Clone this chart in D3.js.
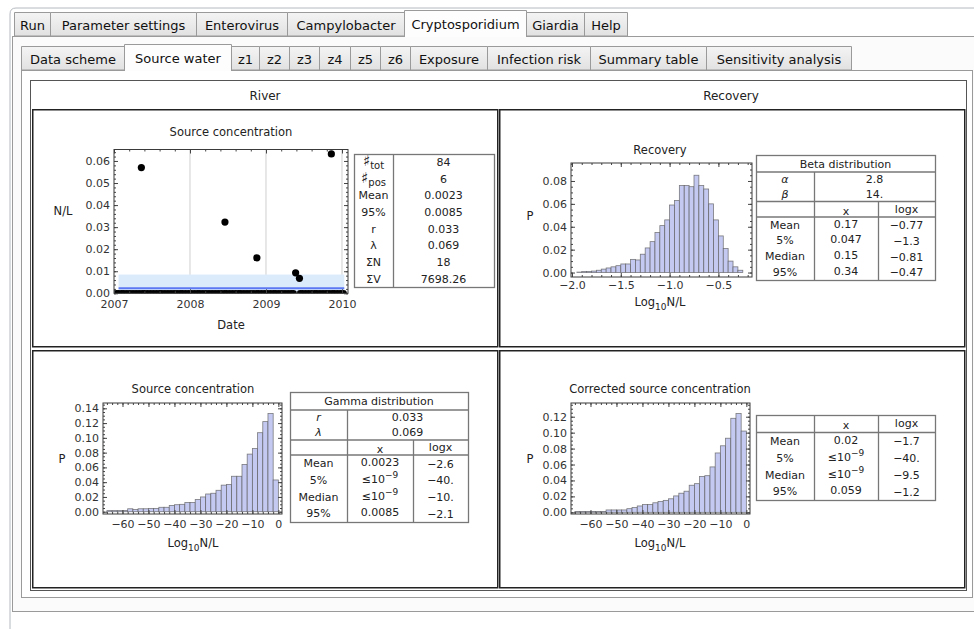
<!DOCTYPE html>
<html>
<head>
<meta charset="utf-8">
<script src="https://cdn.jsdelivr.net/npm/d3@7"></script>
<style>
  body { margin: 0; background: #fff; }
  svg { display: block; font-family: "DejaVu Sans", Verdana, sans-serif; }
</style>
</head>
<body>
<svg id="chart" width="974" height="629"></svg>
<script>
// ---------------- data ----------------
const mainTabs = ["Run", "Parameter settings", "Enterovirus", "Campylobacter", "Cryptosporidium", "Giardia", "Help"];
const subTabs = ["Data scheme", "Source water", "z1", "z2", "z3", "z4", "z5", "z6", "Exposure", "Infection risk", "Summary table", "Sensitivity analysis"];
const columnHeads = ["River", "Recovery"];

// sampling dates (decimal years) with a positive count, and their concentrations (N/L)
const positiveDates = [2007.36, 2008.46, 2008.88, 2009.39, 2009.44, 2009.86];
const positiveConc = [0.0570, 0.0323, 0.0161, 0.0093, 0.0068, 0.0632];
// sampling dates with zero count
const zeroDates = [
  2007.03, 2007.06, 2007.10, 2007.13, 2007.17, 2007.21, 2007.25, 2007.29, 2007.33, 2007.37,
  2007.40, 2007.44, 2007.48, 2007.52, 2007.56, 2007.60, 2007.63, 2007.67, 2007.71, 2007.75,
  2007.79, 2007.83, 2007.87, 2007.90, 2007.94, 2007.98, 2008.02, 2008.06, 2008.10, 2008.13,
  2008.17, 2008.21, 2008.25, 2008.29, 2008.33, 2008.37, 2008.41, 2008.45, 2008.48, 2008.52,
  2008.56, 2008.60, 2008.64, 2008.67, 2008.71, 2008.75, 2008.79, 2008.83, 2008.87, 2008.90,
  2008.94, 2008.98, 2009.02, 2009.06, 2009.10, 2009.13, 2009.17, 2009.21, 2009.25, 2009.29,
  2009.33, 2009.36, 2009.45, 2009.48, 2009.52, 2009.56, 2009.60, 2009.64, 2009.67, 2009.71,
  2009.75, 2009.79, 2009.83, 2009.87, 2009.90, 2009.94, 2009.98, 2010.02
];
const sourceMean = 0.0023;
const source95 = 0.0085;

const statLabels = [["♯", "tot"], ["♯", "pos"], ["Mean"], ["95%"], ["r"], ["λ"], ["ΣN"], ["ΣV"]];
const statValues = ["84", "6", "0.0023", "0.0085", "0.033", "0.069", "18", "7698.26"];

// Recovery histogram: log10 bins of width 0.05 starting at -1.95
const recoveryBinStart = -1.95, recoveryBinWidth = 0.05;
const recoveryP = [0.0004, 0.0009, 0.001, 0.0013, 0.002, 0.003, 0.004, 0.005, 0.006, 0.0075,
  0.0075, 0.0115, 0.011, 0.016, 0.0215, 0.027, 0.035, 0.041, 0.046, 0.059,
  0.063, 0.076, 0.076, 0.075, 0.085, 0.076, 0.073, 0.060, 0.046, 0.032,
  0.021, 0.010, 0.005, 0.002];

// Source / corrected concentration histograms: log10 bins of width 2 starting at -66
const concBinStart = -66, concBinWidth = 2;
const sourceP = [0.0015, 0.0015, 0.0015, 0.0015, 0.004, 0.003, 0.004, 0.004, 0.0045, 0.0045,
  0.006, 0.006, 0.0085, 0.0095, 0.010, 0.0125, 0.0125, 0.0165, 0.020, 0.024,
  0.025, 0.029, 0.036, 0.037, 0.048, 0.048, 0.064, 0.078, 0.0855, 0.107,
  0.122, 0.133, 0.043];
const correctedP = [0.001, 0.001, 0.001, 0.001, 0.001, 0.001, 0.003, 0.003, 0.003, 0.003,
  0.0046, 0.006, 0.008, 0.0097, 0.0097, 0.012, 0.0135, 0.015, 0.017, 0.0206,
  0.024, 0.0265, 0.034, 0.036, 0.045, 0.046, 0.057, 0.0745, 0.0835, 0.093,
  0.118, 0.124, 0.102];

const summaryRows = ["Mean", "5%", "Median", "95%"];
const betaParams = [["α", "2.8"], ["β", "14."]];
const betaX = ["0.17", "0.047", "0.15", "0.34"];
const betaLogX = ["−0.77", "−1.3", "−0.81", "−0.47"];
const gammaParams = [["r", "0.033"], ["λ", "0.069"]];
const gammaX = ["0.0023", "≤10^−9", "≤10^−9", "0.0085"];
const gammaLogX = ["−2.6", "−40.", "−10.", "−2.1"];
const correctedX = ["0.02", "≤10^−9", "≤10^−9", "0.059"];
const correctedLogX = ["−1.7", "−40.", "−9.5", "−1.2"];

const dateTicks = [2007, 2008, 2009, 2010];
const concTicks = [0, 0.01, 0.02, 0.03, 0.04, 0.05, 0.06];
const recXTicks = [-2.0, -1.5, -1.0, -0.5];
const recYTicks = [0, 0.02, 0.04, 0.06, 0.08];
const logTicks = [-60, -50, -40, -30, -20, -10, 0];
const srcYTicks = [0, 0.02, 0.04, 0.06, 0.08, 0.10, 0.12, 0.14];
const corYTicks = [0, 0.02, 0.04, 0.06, 0.08, 0.10, 0.12];

// ---------------- drawing ----------------
const svg = d3.select("#chart");
const TXT = "#222";
const defs = svg.append("defs");
const grad = defs.append("linearGradient").attr("id", "tabgrad").attr("x1", 0).attr("y1", 0).attr("x2", 0).attr("y2", 1);
grad.append("stop").attr("offset", "0%").attr("stop-color", "#f4f4f4");
grad.append("stop").attr("offset", "100%").attr("stop-color", "#e1e1e1");

// window chrome
svg.append("path")
  .attr("d", "M10,629 L10,14 Q10,8 16,8 L974,8")
  .attr("fill", "none").attr("stroke", "#b4b9c0");
svg.append("rect").attr("x", 12.5).attr("y", 36.5).attr("width", 970).attr("height", 575)
  .attr("fill", "#fbfbfb").attr("stroke", "#9a9a9a");

function tabRow(labels, edges, yTop, yBot, sel) {
  const g = svg.append("g");
  labels.forEach((lab, i) => {
    const x0 = edges[i], x1 = edges[i + 1];
    const selected = i === sel;
    const t = selected ? yTop - 2 : yTop;
    g.append("path")
      .attr("d", `M${x0 + 0.5},${yBot + (selected ? 1 : 0)} L${x0 + 0.5},${t + 0.5} L${x1 + 0.5},${t + 0.5} L${x1 + 0.5},${yBot + (selected ? 1 : 0)}` + (selected ? "" : " Z"))
      .attr("fill", selected ? "#fdfdfd" : "url(#tabgrad)")
      .attr("stroke", "#9a9a9a");
    g.append("text")
      .attr("x", (x0 + x1) / 2 + 0.5).attr("y", (t + yBot) / 2 + 1)
      .attr("dy", "0.35em").attr("text-anchor", "middle")
      .attr("font-size", 13).attr("fill", "#111").text(lab);
  });
}
tabRow(mainTabs, [14, 50, 196, 287, 404, 526, 584, 627], 12, 36, 4);

svg.append("rect").attr("x", 21.5).attr("y", 70.5).attr("width", 951).attr("height", 527)
  .attr("fill", "#fff").attr("stroke", "#9a9a9a");
tabRow(subTabs, [21, 124, 231, 259, 289, 319, 350, 380, 410, 487, 590, 706, 851], 46, 70, 1);

// grid of panels
svg.append("rect").attr("x", 30.5).attr("y", 80.5).attr("width", 936).attr("height", 510)
  .attr("fill", "none").attr("stroke", "#555");
[[32, 109], [499, 109], [32, 350], [499, 350]].forEach(([x, y]) => {
  svg.append("rect").attr("x", x + 0.75).attr("y", y + 0.75).attr("width", 465).attr("height", 237)
    .attr("fill", "none").attr("stroke", "#222").attr("stroke-width", 1.5);
});
columnHeads.forEach((h, i) => {
  svg.append("text").attr("x", i === 0 ? 265 : 731).attr("y", 96).attr("dy", "0.35em")
    .attr("text-anchor", "middle").attr("font-size", 12).attr("fill", TXT).text(h);
});

// ---- generic framed plot helpers ----
let clipId = 0;
function framed(xs, ys, o) {
  const g = svg.append("g");
  const [x0, x1] = xs.range();
  const [yb, yt] = ys.range();
  const id = "clip" + (clipId++);
  defs.append("clipPath").attr("id", id).append("rect")
    .attr("x", x0).attr("y", yt).attr("width", x1 - x0).attr("height", yb - yt);
  const plot = g.append("g").attr("clip-path", `url(#${id})`);
  const axes = g.append("g");
  const style = sel => {
    sel.select(".domain").remove();
    sel.selectAll("line").attr("stroke", "#444");
    sel.selectAll("text").attr("font-size", 11).attr("fill", "#333")
      .attr("font-family", "DejaVu Sans, Verdana, sans-serif");
  };
  axes.append("g").attr("transform", `translate(0,${yb})`)
    .call(d3.axisBottom(xs).tickValues(o.xMinor).tickSize(-2).tickFormat("")).call(style);
  axes.append("g").attr("transform", `translate(0,${yt})`)
    .call(d3.axisTop(xs).tickValues(o.xMinor).tickSize(-2).tickFormat("")).call(style);
  axes.append("g").attr("transform", `translate(${x0},0)`)
    .call(d3.axisLeft(ys).tickValues(o.yMinor).tickSize(-2).tickFormat("")).call(style);
  axes.append("g").attr("transform", `translate(${x1},0)`)
    .call(d3.axisRight(ys).tickValues(o.yMinor).tickSize(-2).tickFormat("")).call(style);
  axes.append("g").attr("transform", `translate(0,${yb})`)
    .call(d3.axisBottom(xs).tickValues(o.xTicks).tickSize(-4).tickPadding(o.xPad).tickFormat(o.xFmt)).call(style);
  axes.append("g").attr("transform", `translate(0,${yt})`)
    .call(d3.axisTop(xs).tickValues(o.xTicks).tickSize(-4).tickFormat("")).call(style);
  axes.append("g").attr("transform", `translate(${x0},0)`)
    .call(d3.axisLeft(ys).tickValues(o.yTicks).tickSize(-4).tickPadding(4).tickFormat(o.yFmt)).call(style);
  axes.append("g").attr("transform", `translate(${x1},0)`)
    .call(d3.axisRight(ys).tickValues(o.yTicks).tickSize(-4).tickFormat("")).call(style);
  axes.append("rect").attr("x", x0).attr("y", yt).attr("width", x1 - x0).attr("height", yb - yt)
    .attr("fill", "none").attr("stroke", "#3a3a3a").attr("stroke-width", 1);
  // title
  g.append("text").attr("x", o.title[1]).attr("y", o.title[2]).attr("dy", "0.35em")
    .attr("text-anchor", "middle").attr("font-size", 11.5).attr("fill", TXT).text(o.title[0]);
  return { g, plot, axes };
}
function range(a, b, s) { return d3.range(a, b + s / 2, s).map(v => +v.toFixed(6)); }
function logLabel(g, x, y) {
  const t = g.append("text").attr("x", x).attr("y", y).attr("text-anchor", "middle")
    .attr("font-size", 11.5).attr("fill", TXT);
  t.append("tspan").text("Log");
  t.append("tspan").attr("font-size", 9).attr("dy", 4).text("10");
  t.append("tspan").attr("dy", -4).text("N/L");
}
function sideLabel(g, x, y, s) {
  g.append("text").attr("x", x).attr("y", y).attr("dy", "0.35em").attr("text-anchor", "middle")
    .attr("font-size", 11.5).attr("fill", TXT).text(s);
}

// ---- top-left: concentration over time ----
{
  const xs = d3.scaleLinear().domain([2007, 2010.079]).range([114, 348]);
  const ys = d3.scaleLinear().domain([0, 0.0652]).range([293.3, 149.5]);
  const f = framed(xs, ys, {
    xTicks: dateTicks, xMinor: range(2007, 2010, 0.2), xFmt: d3.format("d"), xPad: 7,
    yTicks: concTicks, yMinor: range(0, 0.064, 0.002), yFmt: d3.format(".2f"),
    title: ["Source concentration", 231, 132]
  });
  f.plot.selectAll("line.grid").data(dateTicks.slice(1)).enter().append("line")
    .attr("x1", d => xs(d)).attr("x2", d => xs(d)).attr("y1", ys.range()[1]).attr("y2", ys.range()[0])
    .attr("stroke", "#cfcfcf");
  f.plot.append("rect").attr("x", xs(2007.06)).attr("width", xs(2010.03) - xs(2007.06))
    .attr("y", ys(source95)).attr("height", ys(0) - ys(source95)).attr("fill", "#dcebfc");
  f.plot.append("line").attr("x1", xs(2007.06)).attr("x2", xs(2010.03))
    .attr("y1", ys(sourceMean)).attr("y2", ys(sourceMean)).attr("stroke", "#5c78f2").attr("stroke-width", 2.2);
  f.plot.selectAll("circle.z").data(zeroDates).enter().append("circle")
    .attr("cx", d => xs(d)).attr("cy", ys(0)).attr("r", 3.4).attr("fill", "#000");
  f.plot.selectAll("circle.p").data(positiveDates).enter().append("circle")
    .attr("cx", d => xs(d)).attr("cy", (d, i) => ys(positiveConc[i])).attr("r", 3.6).attr("fill", "#000");
  f.axes.raise();
  sideLabel(f.g, 63, 211, "N/L");
  sideLabel(f.g, 231, 325, "Date");
}

// stats table
{
  const g = svg.append("g");
  const x0 = 354, xa = 393, x1 = 494, y0 = 154, y1 = 287;
  g.append("rect").attr("x", x0 + 0.5).attr("y", y0 + 0.5).attr("width", x1 - x0).attr("height", y1 - y0)
    .attr("fill", "#fff").attr("stroke", "#777").attr("stroke-width", 1.3);
  g.append("line").attr("x1", xa + 0.5).attr("x2", xa + 0.5).attr("y1", y0).attr("y2", y1).attr("stroke", "#777").attr("stroke-width", 1.3);
  const rh = (y1 - y0) / statLabels.length;
  statLabels.forEach((lab, i) => {
    const cy = y0 + rh * (i + 0.5);
    const t = g.append("text").attr("x", (x0 + xa) / 2).attr("y", cy).attr("dy", "0.35em")
      .attr("text-anchor", "middle").attr("font-size", 11).attr("fill", TXT);
    if (lab[1]) {
      t.append("tspan").attr("font-size", 15).attr("font-family", "DejaVu Sans").text(lab[0]);
      t.append("tspan").attr("font-size", 10).attr("dy", 3).text(lab[1]);
    } else t.text(lab[0]);
    g.append("text").attr("x", (xa + x1) / 2).attr("y", cy).attr("dy", "0.35em")
      .attr("text-anchor", "middle").attr("font-size", 11).attr("fill", TXT).text(statValues[i]);
  });
}

// ---- histograms ----
function histogram(f, xs, ys, start, width, values) {
  f.plot.selectAll("rect.bar").data(values).enter().append("rect")
    .attr("x", (d, i) => xs(start + i * width))
    .attr("width", (d, i) => xs(start + (i + 1) * width) - xs(start + i * width))
    .attr("y", d => ys(d)).attr("height", d => ys(0) - ys(d))
    .attr("fill", "#c4c9f1").attr("stroke", "#555").attr("stroke-opacity", 0.75).attr("stroke-width", 0.8);
  f.axes.raise();
}

{
  const xs = d3.scaleLinear().domain([-2.0102, -0.1557]).range([571, 752]);
  const ys = d3.scaleLinear().domain([-0.0039, 0.0957]).range([277, 163]);
  const f = framed(xs, ys, {
    xTicks: recXTicks, xMinor: range(-2.0, -0.2, 0.1), xFmt: d3.format(".1f"), xPad: 4,
    yTicks: recYTicks, yMinor: range(0, 0.095, 0.005), yFmt: d3.format(".2f"),
    title: ["Recovery", 660, 150]
  });
  histogram(f, xs, ys, recoveryBinStart, recoveryBinWidth, recoveryP);
  sideLabel(f.g, 530, 216, "P");
  logLabel(f.g, 660, 306);
}
{
  const xs = d3.scaleLinear().domain([-67.5, 1.4]).range([103, 282]);
  const ys = d3.scaleLinear().domain([-0.0031, 0.1472]).range([514, 403]);
  const f = framed(xs, ys, {
    xTicks: logTicks, xMinor: range(-66, 0, 2), xFmt: d3.format("d"), xPad: 6,
    yTicks: srcYTicks, yMinor: range(0, 0.145, 0.005), yFmt: d3.format(".2f"),
    title: ["Source concentration", 193, 389]
  });
  histogram(f, xs, ys, concBinStart, concBinWidth, sourceP);
  sideLabel(f.g, 62, 459, "P");
  logLabel(f.g, 193, 547);
}
{
  const xs = d3.scaleLinear().domain([-67.5, 1.4]).range([571, 750]);
  const ys = d3.scaleLinear().domain([-0.0021, 0.1372]).range([514, 403]);
  const f = framed(xs, ys, {
    xTicks: logTicks, xMinor: range(-66, 0, 2), xFmt: d3.format("d"), xPad: 6,
    yTicks: corYTicks, yMinor: range(0, 0.135, 0.005), yFmt: d3.format(".2f"),
    title: ["Corrected source concentration", 660, 389]
  });
  histogram(f, xs, ys, concBinStart, concBinWidth, correctedP);
  sideLabel(f.g, 530, 459, "P");
  logLabel(f.g, 660, 547);
}

// ---- distribution summary tables ----
function cellText(g, x, y, s, size) {
  const t = g.append("text").attr("x", x).attr("y", y).attr("dy", "0.35em")
    .attr("text-anchor", "middle").attr("font-size", size || 11).attr("fill", TXT);
  if (s.startsWith("≤10^")) {
    t.append("tspan").text("≤10");
    t.append("tspan").attr("font-size", 9).attr("dy", -5).text(s.slice(4));
  } else t.text(s);
  return t;
}
function summaryTable(o) {
  const g = svg.append("g");
  const ln = (x1, y1, x2, y2) => g.append("line").attr("x1", x1).attr("y1", y1).attr("x2", x2).attr("y2", y2)
    .attr("stroke", "#777").attr("stroke-width", 1.3);
  g.append("rect").attr("x", o.x0 + 0.5).attr("y", o.y0 + 0.5).attr("width", o.x1 - o.x0).attr("height", o.y1 - o.y0)
    .attr("fill", "#fff").attr("stroke", "#777").attr("stroke-width", 1.3);
  let yHead = o.y0;
  if (o.title) {
    ln(o.x0, o.lines[0], o.x1, o.lines[0]);
    cellText(g, (o.x0 + o.x1) / 2, (o.y0 + o.lines[0]) / 2 + 0.5, o.title);
    ln(o.x0, o.lines[1], o.x1, o.lines[1]);
    ln(o.xa + 0.5, o.lines[0], o.xa + 0.5, o.y1);
    o.params.forEach((p, i) => {
      const cy = o.lines[0] + (o.lines[1] - o.lines[0]) * (i + 0.5) / o.params.length;
      cellText(g, (o.x0 + o.xa) / 2, cy, p[0]).attr("font-style", "italic");
      cellText(g, (o.xa + o.x1) / 2, cy, p[1]);
    });
    yHead = o.lines[1];
  } else {
    ln(o.xa + 0.5, o.y0, o.xa + 0.5, o.y1);
  }
  const yRule = o.lines[o.lines.length - 1];
  ln(o.x0, yRule, o.x1, yRule);
  ln(o.xb + 0.5, yHead, o.xb + 0.5, o.y1);
  cellText(g, (o.xa + o.xb) / 2, (yHead + yRule) / 2 + 1.5, "x");
  cellText(g, (o.xb + o.x1) / 2, (yHead + yRule) / 2 - 0.5, "logx");
  summaryRows.forEach((r, i) => {
    const cy = yRule + (o.y1 - yRule) * (i + 0.5) / summaryRows.length;
    cellText(g, (o.x0 + o.xa) / 2, cy, r);
    cellText(g, (o.xa + o.xb) / 2, cy - 1, o.xs[i]);
    cellText(g, (o.xb + o.x1) / 2, cy + 0.5, o.logs[i]);
  });
}
summaryTable({ x0: 756, xa: 814, xb: 878, x1: 935, y0: 155, y1: 280, lines: [172, 201.5, 217],
  title: "Beta distribution", params: betaParams, xs: betaX, logs: betaLogX });
summaryTable({ x0: 290, xa: 347, xb: 413, x1: 468, y0: 392, y1: 522, lines: [410, 440, 455],
  title: "Gamma distribution", params: gammaParams, xs: gammaX, logs: gammaLogX });
summaryTable({ x0: 756, xa: 814, xb: 878, x1: 935, y0: 415, y1: 500, lines: [432.5],
  xs: correctedX, logs: correctedLogX });
</script>
</body>
</html>
